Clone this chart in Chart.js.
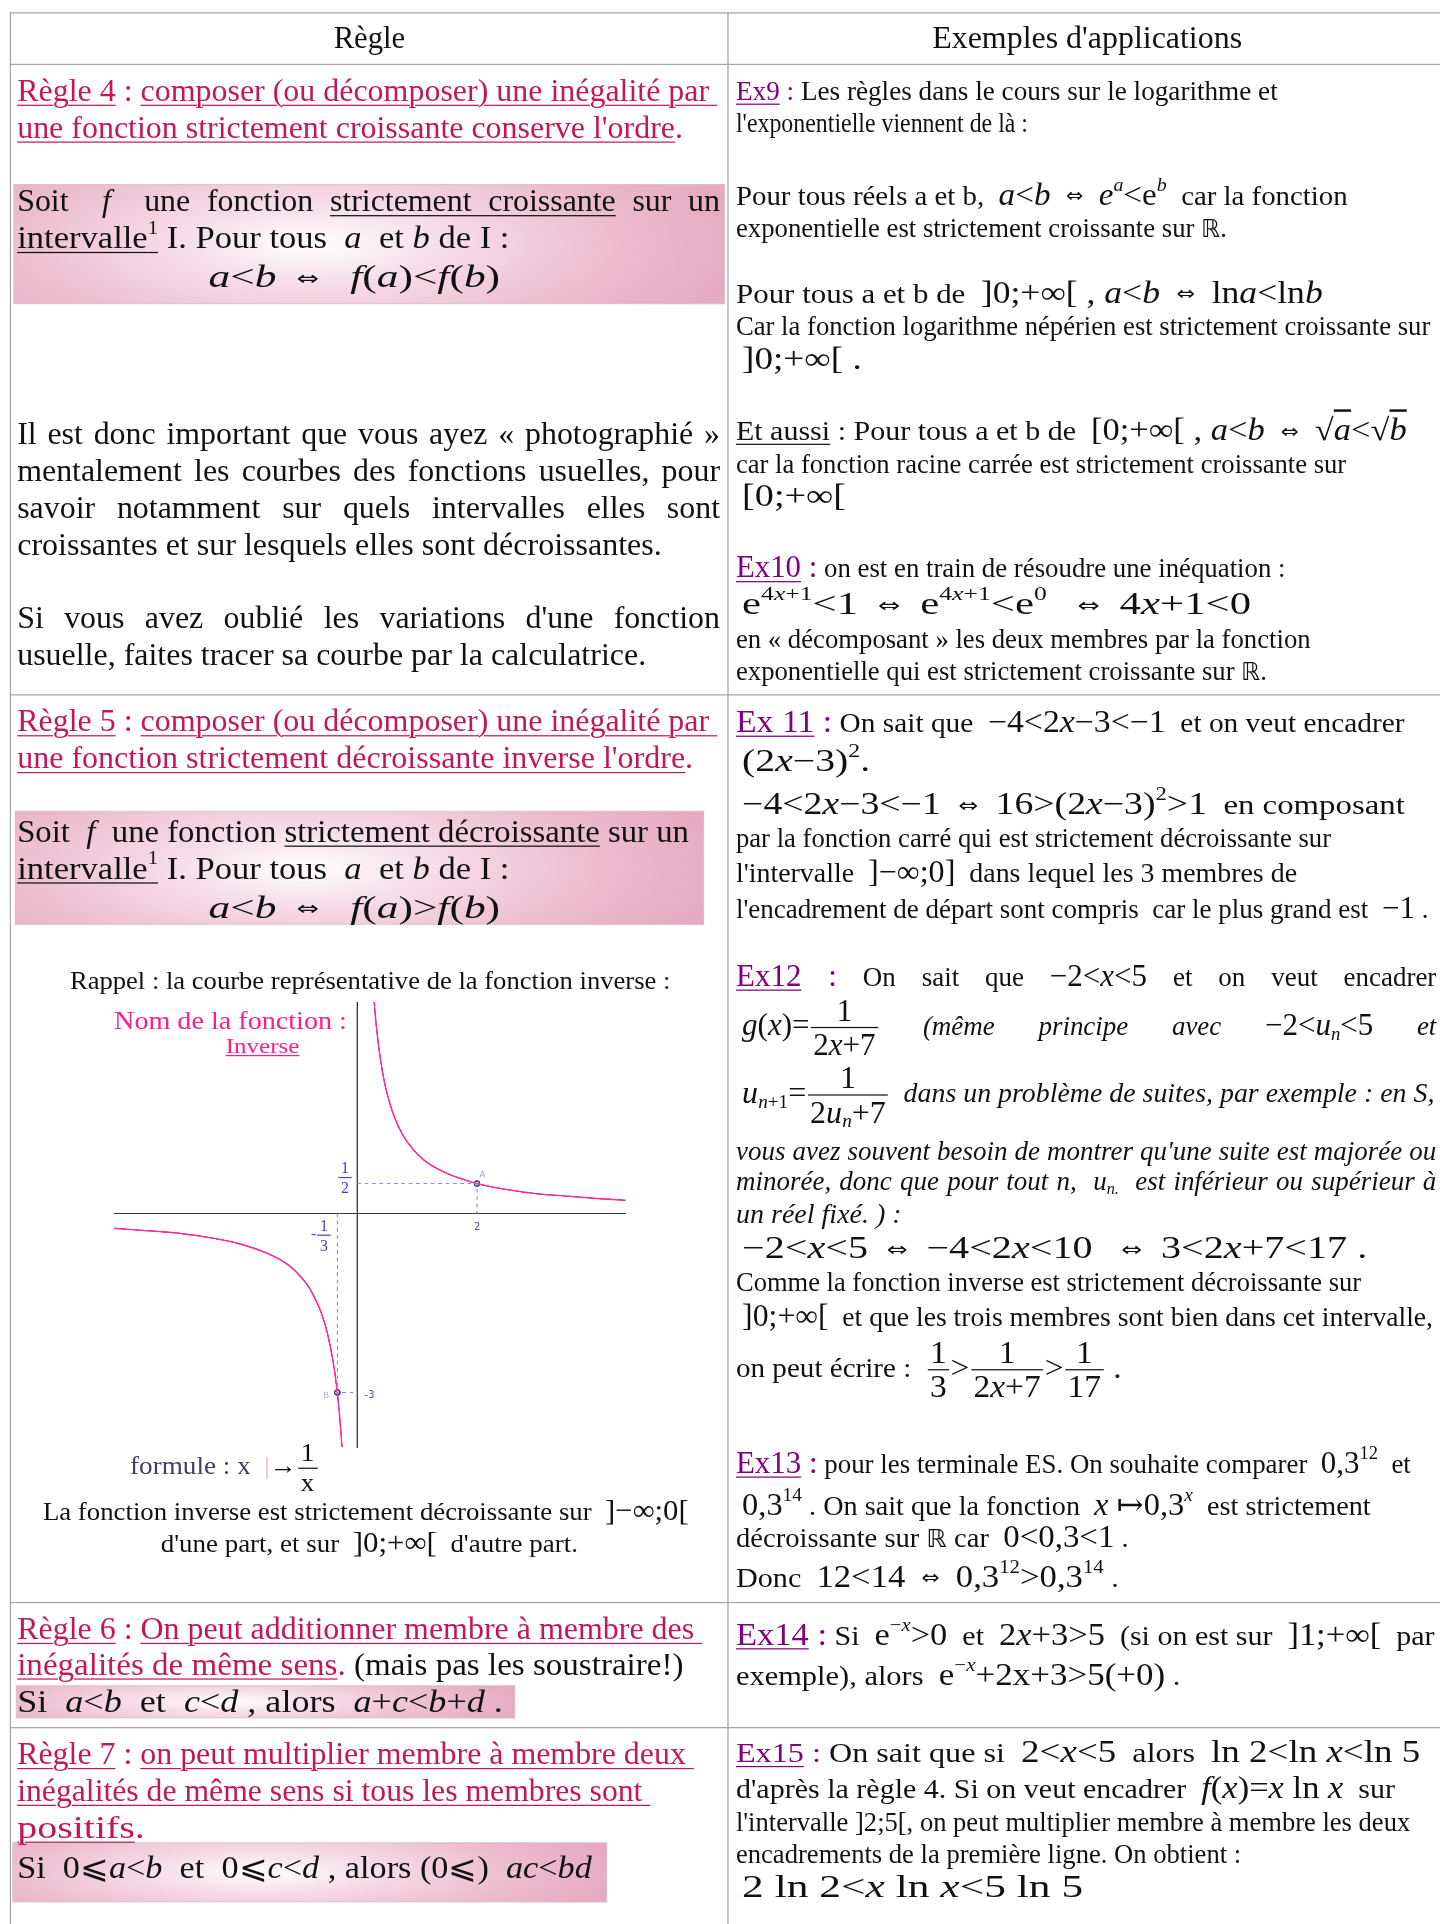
<!DOCTYPE html>
<html><head><meta charset="utf-8">
<script src="https://cdn.jsdelivr.net/npm/chart.js@4.4.1/dist/chart.umd.min.js"></script>
<style>
html,body{margin:0;padding:0;background:#fff;}
body{width:1440px;height:1924px;overflow:hidden;position:relative;}
#page{position:absolute;left:0;top:0;width:1174px;height:1568px;transform:scale(1.2266);transform-origin:0 0;font-family:"Liberation Serif","Times New Roman","DejaVu Serif",serif;color:#111;}
.hl{position:absolute;height:0;border-top:1.2px solid #a4a4a4;}
.vl{position:absolute;width:0;border-left:1.2px solid #a4a4a4;}
.ln{position:absolute;white-space:nowrap;transform-origin:0 0;line-height:1.05;}
.red{color:#c4175a;}
.u{text-decoration:underline;text-underline-offset:0.13em;text-decoration-thickness:1px;}
.ex{color:#800080;}
.bg{font-size:1.15em;}
.m{font-size:1.15em;}
.eq{font-family:"DejaVu Sans",sans-serif;font-size:0.62em;padding:0 0.35em;vertical-align:0.1em;}
.R{font-family:"DejaVu Sans",sans-serif;font-size:0.9em;}
sup{font-size:0.6em;vertical-align:0.75em;line-height:0;}
sub{font-size:0.6em;vertical-align:-0.25em;line-height:0;}
.fr{display:inline-flex;flex-direction:column;align-items:center;vertical-align:middle;line-height:1;margin:0 1px;}
.fr .fn{padding:0 2px 1px;}
.fr .fd{border-top:1px solid currentColor;padding:1px 2px 0;}
.box{position:absolute;background:radial-gradient(ellipse 62% 110% at 42% 50%,#ffffff 0%,#f6dde7 30%,#ecbccd 70%,#e5a9c0 100%);box-shadow:inset 0 0 0 1px rgba(210,200,205,0.6);}
.ov{text-decoration:overline;}
#chartWrap{position:absolute;left:88px;top:812px;width:427px;height:373px;}
.cl{position:absolute;transform:translate(-50%,-50%);white-space:nowrap;line-height:1;}
</style></head>
<body>
<div id="page">
  <div id="chartWrap"><canvas id="c" width="427" height="373"></canvas></div>
</div>
<script>
// ---------- chart data ----------
const branchPosX=[0.28,0.30,0.33,0.36,0.40,0.45,0.50,0.60,0.70,0.80,1.00,1.20,1.50,1.80,2.00,2.50,3.00,3.50,4.00,4.48];
const branchPosY=[3.57,3.33,3.03,2.78,2.50,2.22,2.00,1.67,1.43,1.25,1.00,0.83,0.67,0.56,0.50,0.40,0.33,0.29,0.25,0.22];
const branchNegX=[-4.06,-3.50,-3.00,-2.50,-2.00,-1.50,-1.20,-1.00,-0.80,-0.60,-0.50,-0.40,-0.333,-0.30,-0.27,-0.25];
const branchNegY=[-0.25,-0.29,-0.33,-0.40,-0.50,-0.67,-0.83,-1.00,-1.25,-1.67,-2.00,-2.50,-3.00,-3.33,-3.70,-4.00];
const pointNames=['A','B'];
const pointX=[2,-0.333];
const pointY=[0.5,-3];
const tickValuesX=[2];   const tickLabelsX=['2'];
const tickValuesY=[-3];  const tickLabelsY=['-3'];
const xRange=[-4.06,4.48];
const yRange=[-3.92,3.54];

const zip=(xs,ys)=>xs.map((x,i)=>({x:x,y:ys[i]}));
const guideA=[{x:0,y:pointY[0]},{x:pointX[0],y:pointY[0]},{x:pointX[0],y:0}];
const guideB=[{x:pointX[1],y:0},{x:pointX[1],y:pointY[1]},{x:0,y:pointY[1]}];

const chart=new Chart(document.getElementById('c'),{
  type:'scatter',
  data:{datasets:[
    {data:guideA,showLine:true,borderColor:'#8a8af0',borderWidth:0.8,borderDash:[3,3],pointRadius:0,tension:0},
    {data:guideB,showLine:true,borderColor:'#8a8af0',borderWidth:0.8,borderDash:[3,3],pointRadius:0,tension:0},
    {data:zip(branchPosX,branchPosY),showLine:true,borderColor:'#ff2d95',borderWidth:1.3,pointRadius:0,cubicInterpolationMode:'monotone'},
    {data:zip(branchNegX,branchNegY),showLine:true,borderColor:'#ff2d95',borderWidth:1.3,pointRadius:0,cubicInterpolationMode:'monotone'},
    {data:zip(pointX,pointY),showLine:false,pointRadius:2.2,pointBackgroundColor:'#c9c9ea',pointBorderColor:'#2e2e62',pointBorderWidth:1}
  ]},
  options:{
    responsive:false,animation:false,devicePixelRatio:3,
    layout:{padding:0},
    plugins:{legend:{display:false},tooltip:{enabled:false}},
    scales:{
      x:{type:'linear',min:xRange[0],max:xRange[1],position:{y:0},
         grid:{display:true,color:'rgba(0,0,0,0)',drawTicks:false},ticks:{display:false},
         border:{display:true,color:'#222',width:0.9}},
      y:{type:'linear',min:yRange[0],max:yRange[1],position:{x:0},
         grid:{display:true,color:'rgba(0,0,0,0)',drawTicks:false},ticks:{display:false},
         border:{display:true,color:'#222',width:0.9}}
    }
  }
});

const F=(n,d)=>`<span class="fr"><span class="fn">${n}</span><span class="fd">${d}</span></span>`;
const wrap=document.getElementById('chartWrap');
function cl(html,xv,yv,dx,dy,css){
  const d=document.createElement('div');d.className='cl';d.innerHTML=html;
  d.style.left=(chart.scales.x.getPixelForValue(xv)+dx)+'px';
  d.style.top=(chart.scales.y.getPixelForValue(yv)+dy)+'px';
  d.style.cssText+=css;wrap.appendChild(d);
}
cl(F('1','2'),0,pointY[0],-10,-5,'font-size:13px;color:#4646c4;');
cl('-'+F('1','3'),pointX[1],0,-13,18,'font-size:13px;color:#4646c4;');
cl(pointNames[0],pointX[0],pointY[0],4.5,-7,'font-size:7px;color:#a898e0;font-family:DejaVu Sans,sans-serif;');
cl(pointNames[1],pointX[1],pointY[1],-9,3,'font-size:7px;color:#b0b0cc;font-family:DejaVu Sans,sans-serif;');
cl(tickLabelsX[0],tickValuesX[0],0,0,12,'font-size:8px;color:#5050b4;font-family:DejaVu Sans,sans-serif;');
cl(tickLabelsY[0],0,tickValuesY[0],10,3,'font-size:8px;color:#5050b4;font-family:DejaVu Sans,sans-serif;');

// ---------- page text ----------
const page=document.getElementById('page');
function hl(x,y,w){const d=document.createElement('div');d.className='hl';d.style.cssText+=`left:${x}px;top:${y}px;width:${w}px`;page.appendChild(d);}
function vl(x,y,h){const d=document.createElement('div');d.className='vl';d.style.cssText+=`left:${x}px;top:${y}px;height:${h}px`;page.appendChild(d);}
function box(x,y,w,h){const d=document.createElement('div');d.className='box';d.style.cssText+=`left:${x}px;top:${y}px;width:${w}px;height:${h}px`;page.insertBefore(d,page.firstChild);}
hl(8,9.5,1170);hl(8,51.5,1170);hl(8,566,1170);hl(8,1305.5,1170);hl(8,1408,1170);
vl(8,9.5,1570);vl(593,9.5,1570);
box(11,150,580,98);box(12,661,562,93);box(13,1374,407,27);box(10,1502,485,49);

const M=s=>`<span class="m">${s}</span>`;
const EQ='<span class="eq">⇔</span>';
const EX=(t,big)=>`<span class="ex${big?' bg':''}"><span class="u">${t}</span> :</span>`;
const I=s=>`<i>${s}</i>`;
const RR='<span class="R">ℝ</span>';
const lines=[
 // x, yCenter, width, fontSize, html, justify
 [272,31,58,25,'Règle'],
 [760,31,253,25,"Exemples d'applications"],
 [14,74,571,26,'<span class="red"><span class="u">Règle 4</span> : <span class="u">composer (ou décomposer) une inégalité par&nbsp;</span></span>'],
 [14,104,543,26,'<span class="red"><span class="u">une fonction strictement croissante conserve l\'ordre</span>.</span>'],
 [14,164,573,26,'Soit &nbsp;'+I('f')+'&nbsp; une fonction <span class="u">strictement croissante</span> sur un',1],
 [14,194,401,26,'<span class="u">intervalle<sup>1</sup></span> I. Pour tous &nbsp;'+I('a')+'&nbsp; et '+I('b')+' de I :'],
 [170,226,238,26,I('a')+'&lt;'+I('b')+' '+EQ+' &nbsp;'+I('f')+'('+I('a')+')&lt;'+I('f')+'('+I('b')+')'],
 [14,354,573,26,'Il est donc important que vous ayez « photographié »',1],
 [14,384,573,26,'mentalement les courbes des fonctions usuelles, pour',1],
 [14,414,573,26,'savoir notamment sur quels intervalles elles sont',1],
 [14,444,526,26,'croissantes et sur lesquels elles sont décroissantes.'],
 [14,504,573,26,'Si vous avez oublié les variations d\'une fonction',1],
 [14,534,513,26,'usuelle, faites tracer sa courbe par la calculatrice.'],
 [14,588,571,26,'<span class="red"><span class="u">Règle 5</span> : <span class="u">composer (ou décomposer) une inégalité par&nbsp;</span></span>'],
 [14,618,551,26,'<span class="red"><span class="u">une fonction strictement décroissante inverse l\'ordre</span>.</span>'],
 [14,678,548,26,'Soit &nbsp;'+I('f')+'&nbsp; une fonction <span class="u">strictement décroissante</span> sur un'],
 [14,708,401,26,'<span class="u">intervalle<sup>1</sup></span> I. Pour tous &nbsp;'+I('a')+'&nbsp; et '+I('b')+' de I :'],
 [170,740,238,26,I('a')+'&lt;'+I('b')+' '+EQ+' &nbsp;'+I('f')+'('+I('a')+')&gt;'+I('f')+'('+I('b')+')'],
 [57,800,489,20,'Rappel : la courbe représentative de la fonction inverse :'],
 [93,832,190,21,'<span style="color:#ff1c8d">Nom de la fonction :</span>'],
 [184,853,60,17,'<span class="u" style="color:#ff1c8d">Inverse</span>'],
 [106,1197,154,21,'<span style="color:#3f3f63">formule : x &nbsp;</span><span style="color:#f2b0dc">|</span>→'+F('1','x')],
 [35,1231,527,21,'La fonction inverse est strictement décroissante sur &nbsp;'+M(']−∞;0[')],
 [131,1257,340,21,'d\'une part, et sur &nbsp;'+M(']0;+∞[')+'&nbsp; d\'autre part.'],
 [14,1328,558,26,'<span class="red"><span class="u">Règle 6</span> : <span class="u">On peut additionner membre à membre des&nbsp;</span></span>'],
 [14,1357,543,26,'<span class="red"><span class="u">inégalités de même sens</span>.</span> (mais pas les soustraire!)'],
 [14,1387,396,26,'Si &nbsp;'+I('a')+'&lt;'+I('b')+'&nbsp; et &nbsp;'+I('c')+'&lt;'+I('d')+' , alors &nbsp;'+I('a')+'+'+I('c')+'&lt;'+I('b')+'+'+I('d')+' .'],
 [14,1430,552,26,'<span class="red"><span class="u">Règle 7</span> : <span class="u">on peut multiplier membre à membre deux&nbsp;</span></span>'],
 [14,1460,516,26,'<span class="red"><span class="u">inégalités de même sens si tous les membres sont&nbsp;</span></span>'],
 [14,1490,104,26,'<span class="red"><span class="u">positifs</span>.</span>'],
 [14,1523,468,26,'Si &nbsp;0⩽'+I('a')+'&lt;'+I('b')+'&nbsp; et &nbsp;0⩽'+I('c')+'&lt;'+I('d')+' , alors (0⩽) &nbsp;'+I('ac')+'&lt;'+I('bd')],
 // right column
 [600,74,442,22,EX('Ex9')+' Les règles dans le cours sur le logarithme et'],
 [600,100,238,22,'l\'exponentielle viennent de là :'],
 [600,158,499,22,'Pour tous réels a et b, &nbsp;'+M(I('a')+'&lt;'+I('b')+' '+EQ+' '+I('e')+'<sup>'+I('a')+'</sup>&lt;e<sup>'+I('b')+'</sup>')+'&nbsp; car la fonction'],
 [600,186,400,22,'exponentielle est strictement croissante sur '+RR+'.'],
 [600,238,478,22,'Pour tous a et b de &nbsp;'+M(']0;+∞[ , '+I('a')+'&lt;'+I('b')+' '+EQ+' ln'+I('a')+'&lt;ln'+I('b'))],
 [600,266,566,22,'Car la fonction logarithme népérien est strictement croissante sur'],
 [605,292,97,22,M(']0;+∞[ .')],
 [600,350,547,22,'<span class="u">Et aussi</span> : Pour tous a et b de &nbsp;'+M('[0;+∞[ , '+I('a')+'&lt;'+I('b')+' '+EQ+' √<span class="ov">'+I('a')+'</span>&lt;√<span class="ov">'+I('b')+'</span>')],
 [600,378,498,22,'car la fonction racine carrée est strictement croissante sur'],
 [605,404,85,22,M('[0;+∞[')],
 [600,462,448,22,EX('Ex10',1)+' on est en train de résoudre une inéquation :'],
 [605,492,415,22,M('e<sup>4'+I('x')+'+1</sup>&lt;1 '+EQ+' e<sup>4'+I('x')+'+1</sup>&lt;e<sup>0</sup> &nbsp;'+EQ+' 4'+I('x')+'+1&lt;0')],
 [600,521,468,22,'en « décomposant » les deux membres par la fonction'],
 [600,547,433,22,'exponentielle qui est strictement croissante sur '+RR+'.'],
 [600,588,545,22,EX('Ex 11',1)+' On sait que &nbsp;'+M('−4&lt;2'+I('x')+'−3&lt;−1')+'&nbsp; et on veut encadrer'],
 [605,620,105,22,M('(2'+I('x')+'−3)<sup>2</sup>.')],
 [605,655,540,22,M('−4&lt;2'+I('x')+'−3&lt;−1 '+EQ+' 16&gt;(2'+I('x')+'−3)<sup>2</sup>&gt;1')+'&nbsp; en composant'],
 [600,683,485,22,'par la fonction carré qui est strictement décroissante sur'],
 [600,710,457,22,'l\'intervalle &nbsp;'+M(']−∞;0]')+'&nbsp; dans lequel les 3 membres de'],
 [600,740,565,22,'l\'encadrement de départ sont compris &nbsp;car le plus grand est &nbsp;'+M('−1')+' .'],
 [600,795,571,22,EX('Ex12',1)+' On sait que '+M('−2&lt;'+I('x')+'&lt;5')+' et on veut encadrer',1],
 [605,838,566,22,M(I('g')+'('+I('x')+')='+F('1','2'+I('x')+'+7'))+' <i>(même principe avec</i> '+M('−2&lt;'+I('u')+'<sub>'+I('n')+'</sub>&lt;5')+' <i>et</i>',1],
 [605,893,564,22,M(I('u')+'<sub>'+I('n')+'+1</sub>='+F('1','2'+I('u')+'<sub>'+I('n')+'</sub>+7'))+' &nbsp;<i>dans un problème de suites, par exemple : en S,</i>'],
 [600,938,571,22,'<i>vous avez souvent besoin de montrer qu\'une suite est majorée ou</i>',1],
 [600,963,571,22,'<i>minorée, donc que pour tout n, &nbsp;u<sub>n.</sub>&nbsp; est inférieur ou supérieur à</i>',1],
 [600,990,135,22,'<i>un réel fixé. ) :</i>'],
 [605,1017,510,22,M('−2&lt;'+I('x')+'&lt;5 '+EQ+' −4&lt;2'+I('x')+'&lt;10 &nbsp;'+EQ+' 3&lt;2'+I('x')+'+7&lt;17 .')],
 [600,1045,510,22,'Comme la fonction inverse est strictement décroissante sur'],
 [605,1072,563,22,M(']0;+∞[')+'&nbsp; et que les trois membres sont bien dans cet intervalle,'],
 [600,1117,315,22,'on peut écrire : &nbsp;'+M(F('1','3')+'&gt;'+F('1','2'+I('x')+'+7')+'&gt;'+F('1','17')+' .')],
 [600,1192,550,22,EX('Ex13',1)+' pour les terminale ES. On souhaite comparer &nbsp;'+M('0,3<sup>12</sup>')+'&nbsp; et'],
 [605,1226,513,22,M('0,3<sup>14</sup>')+' . On sait que la fonction &nbsp;'+M(I('x')+' ↦0,3<sup>'+I('x')+'</sup>')+'&nbsp; est strictement'],
 [600,1253,320,22,'décroissante sur '+RR+' car &nbsp;'+M('0&lt;0,3&lt;1')+' .'],
 [600,1285,312,22,'Donc &nbsp;'+M('12&lt;14 '+EQ+' 0,3<sup>12</sup>&gt;0,3<sup>14</sup>')+' .'],
 [600,1332,569,22,EX('Ex14',1)+' Si &nbsp;'+M('e<sup>−'+I('x')+'</sup>&gt;0')+'&nbsp; et &nbsp;'+M('2'+I('x')+'+3&gt;5')+'&nbsp; (si on est sur &nbsp;'+M(']1;+∞[')+'&nbsp; par'],
 [600,1365,362,22,'exemple), alors &nbsp;'+M('e<sup>−'+I('x')+'</sup>+2x+3&gt;5(+0)')+' .'],
 [600,1428,558,22,EX('Ex15')+' On sait que si &nbsp;'+M('2&lt;'+I('x')+'&lt;5')+'&nbsp; alors &nbsp;'+M('ln 2&lt;ln '+I('x')+'&lt;ln 5')],
 [600,1457,537,22,'d\'après la règle 4. Si on veut encadrer &nbsp;'+M(I('f')+'('+I('x')+')='+I('x')+' ln '+I('x'))+'&nbsp; sur'],
 [600,1485,550,22,'l\'intervalle ]2;5[, on peut multiplier membre à membre les deux'],
 [600,1511,412,22,'encadrements de la première ligne. On obtient :'],
 [605,1538,390,22,M('2 ln 2&lt;'+I('x')+' ln '+I('x')+'&lt;5 ln 5')]
];
const els=[];
lines.forEach(l=>{
  const d=document.createElement('div');d.className='ln';
  d.style.left=l[0]+'px';d.style.top=l[1]+'px';d.style.fontSize=l[3]+'px';
  d.innerHTML=l[4];d.dataset.w=l[2];d.dataset.j=l[5]?'1':'0';
  page.appendChild(d);els.push(d);
});
function fit(){
  els.forEach(el=>{
    const w=+el.dataset.w,j=el.dataset.j==='1';
    el.style.width='auto';el.style.textAlign='left';el.style.textAlignLast='auto';el.style.transform='none';
    const nat=el.offsetWidth;
    let sx=w/nat;
    if(j&&sx>1){sx=1;el.style.width=w+'px';el.style.textAlign='justify';el.style.textAlignLast='justify';}
    sx=Math.max(0.6,Math.min(1.4,sx));
    el.style.transform=`translateY(-50%) scaleX(${sx})`;
  });
}
fit();
if(document.fonts&&document.fonts.ready){document.fonts.ready.then(fit);}
</script>
</body></html>
